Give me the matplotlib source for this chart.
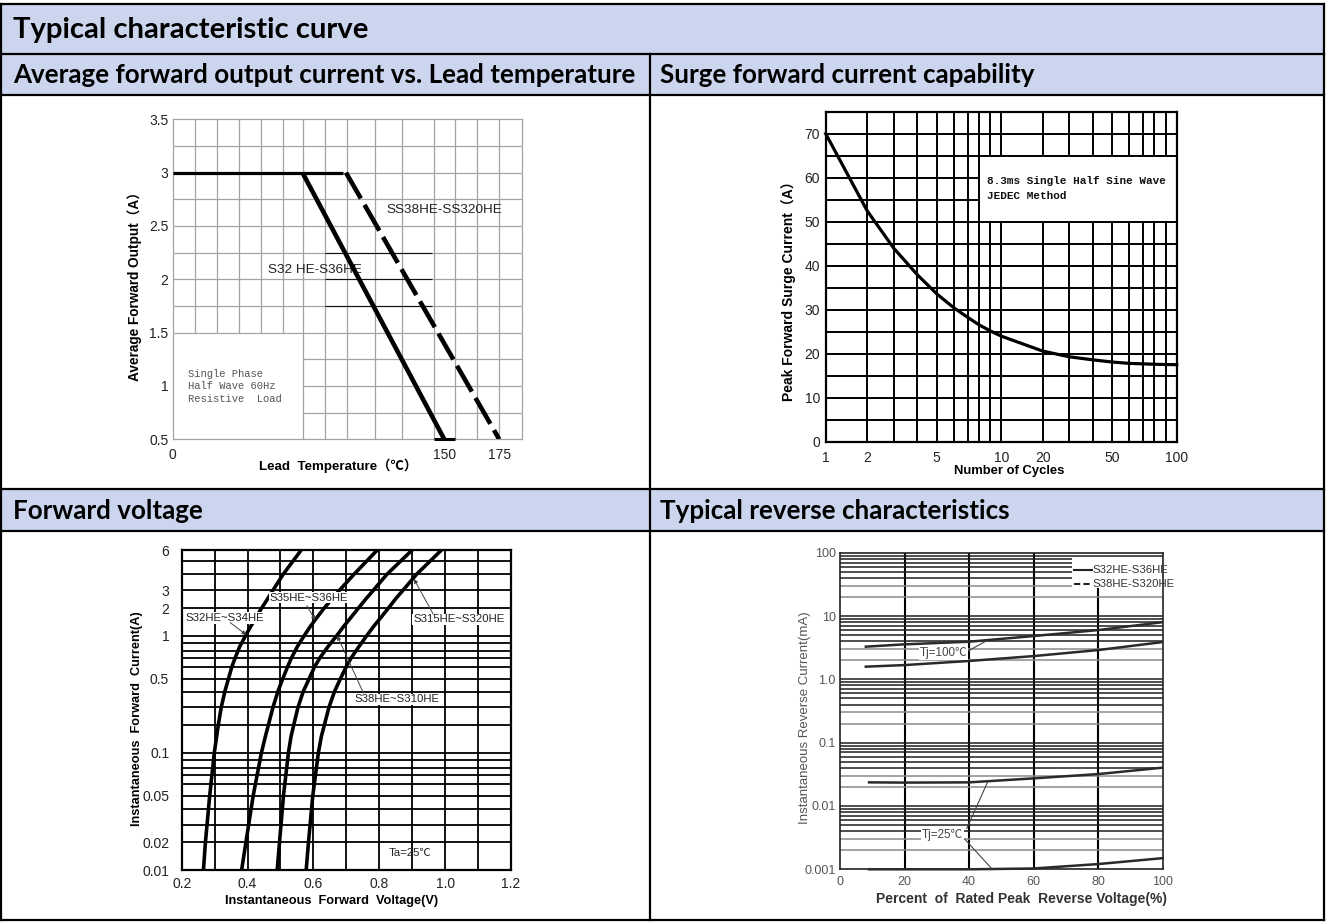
import numpy as np
import matplotlib
matplotlib.use("Agg")
import matplotlib.pyplot as plt
from matplotlib.patches import Rectangle
from matplotlib.lines import Line2D

# ---------------- data ----------------
# Chart 1: average forward output current vs lead temperature (broken axis starts at "0")
T_START = 26.5                      # axis position that carries the "0" label
flat_t = [T_START, 104.0]
flat_a = [3.0, 3.0]
s32_t = [85.5, 150.0]
s32_a = [3.0, 0.5]
ss38_t = [105.3, 175.0]
ss38_a = [3.0, 0.5]
c1_xticks = [T_START, 150, 175]
c1_xlabels = ["0", "150", "175"]
c1_yticks = [0.5, 1, 1.5, 2, 2.5, 3, 3.5]
c1_ylabels = ["0.5", "1", "1.5", "2", "2.5", "3", "3.5"]

# Chart 2: surge forward current capability
cycles = [1, 2, 3, 4, 5, 6, 7, 8, 9, 10, 20, 30, 40, 50, 60, 80, 100]
surge_a = [70.0, 52.5, 44.0, 37.9, 33.6, 30.4, 28.3, 26.6, 25.2, 24.0,
           20.6, 19.3, 18.6, 18.1, 17.8, 17.6, 17.5]
c2_xticks = [1, 2, 5, 10, 20, 50, 100]
c2_yticks = [0, 10, 20, 30, 40, 50, 60, 70]

# Chart 3: forward voltage
if_current = [0.01, 0.02, 0.05, 0.1, 0.15, 0.2, 0.3, 0.4, 0.5, 0.6, 0.7, 0.85,
              1, 1.25, 1.5, 2, 2.5, 3, 4, 6]
vf_s32 = [0.266, 0.272, 0.285, 0.299, 0.306, 0.311, 0.320, 0.331, 0.342, 0.352, 0.362, 0.376,
          0.394, 0.409, 0.422, 0.443, 0.462, 0.477, 0.508, 0.563]
vf_s35 = [0.382, 0.395, 0.417, 0.442, 0.454, 0.463, 0.477, 0.492, 0.507, 0.521, 0.533, 0.551,
          0.572, 0.590, 0.606, 0.633, 0.658, 0.679, 0.723, 0.794]
vf_s38 = [0.490, 0.497, 0.509, 0.524, 0.532, 0.540, 0.553, 0.569, 0.587, 0.603, 0.619, 0.644,
          0.671, 0.691, 0.709, 0.737, 0.761, 0.782, 0.823, 0.900]
vf_s315 = [0.578, 0.585, 0.598, 0.615, 0.624, 0.633, 0.647, 0.664, 0.682, 0.699, 0.714, 0.738,
           0.762, 0.782, 0.800, 0.828, 0.851, 0.872, 0.913, 0.989]
c3_xticks = [0.2, 0.4, 0.6, 0.8, 1.0, 1.2]
c3_xlabels = ["0.2", "0.4", "0.6", "0.8", "1.0", "1.2"]
c3_yticks = [0.01, 0.02, 0.05, 0.1, 0.5, 1, 2, 3, 6]
c3_ylabels = ["0.01", "0.02", "0.05", "0.1", "0.5", "1", "2", "3", "6"]

# Chart 4: typical reverse characteristics
pct_100 = [8, 20, 40, 60, 80, 100]
ir100_a = [3.28, 3.57, 3.93, 4.83, 6.0, 8.0]
ir100_b = [1.585, 1.68, 1.95, 2.33, 2.9, 3.88]
pct_25 = [9, 20, 40, 60, 80, 100]
ir25_a = [0.0236, 0.0234, 0.0236, 0.0273, 0.0319, 0.0403]
ir25_b = [0.001, 0.001, 0.001, 0.00103, 0.00121, 0.0015]
c4_xticks = [0, 20, 40, 60, 80, 100]
c4_yticks = [0.001, 0.01, 0.1, 1, 10, 100]
c4_ylabels = ["0.001", "0.01", "0.1", "1.0", "10", "100"]

# ---------------- setup ----------------
plt.rcParams['font.family'] = ['Liberation Sans', 'Noto Sans CJK SC', 'DejaVu Sans']
W, H = 1326, 922
fig = plt.figure(figsize=(W / 100, H / 100), dpi=100)
fig.patch.set_facecolor('white')


def add_ax(l, t, r, b):
    return fig.add_axes([l / W, 1 - b / H, (r - l) / W, (b - t) / H])


HEAD = '#CCD5EE'
for (t, b) in [(4, 54), (54, 95), (489, 531)]:
    fig.add_artist(Rectangle((1 / W, 1 - b / H), 1323 / W, (b - t) / H,
                             transform=fig.transFigure, facecolor=HEAD,
                             edgecolor='none', zorder=0))


def hline_px(y, x0=1, x1=1324, lw=1.6):
    fig.add_artist(Line2D([x0 / W, x1 / W], [1 - y / H] * 2, transform=fig.transFigure,
                          color='black', lw=lw, zorder=10, solid_capstyle='projecting'))


def vline_px(x, y0, y1, lw=1.6):
    fig.add_artist(Line2D([x / W] * 2, [1 - y0 / H, 1 - y1 / H], transform=fig.transFigure,
                          color='black', lw=lw, zorder=10, solid_capstyle='projecting'))


for y in [4, 54, 95, 489, 531, 920]:
    hline_px(y)
vline_px(1, 4, 920)
vline_px(1324, 4, 920)
vline_px(650, 54, 920)

# header texts, scaled to match widths
renderer = fig.canvas.get_renderer()
HFONT = ['Lato', 'DejaVu Sans']


def fitted_size(txt, target, base=14):
    t = fig.text(0, 0, txt, fontsize=base, fontweight='bold', family=HFONT)
    w = t.get_window_extent(renderer).width
    t.remove()
    return base * target / w


ts = fitted_size("Typical characteristic curve", 358)
ss = fitted_size("Average forward output current vs. Lead temperature", 625)
fig.text(13 / W, 1 - 30 / H, "Typical characteristic curve", fontsize=ts,
         fontweight='bold', family=HFONT, va='center', ha='left')
for (x, y, s) in [(13, 75, "Average forward output current vs. Lead temperature"),
                  (660, 75, "Surge forward current capability"),
                  (13, 511, "Forward voltage"),
                  (660, 511, "Typical reverse characteristics")]:
    fig.text(x / W, 1 - y / H, s, fontsize=ss, fontweight='bold', family=HFONT,
             va='center', ha='left')

# distorted-log graph paper (used by the surge and forward-voltage charts)
PAPER_FRAC = [0, 0.236, 0.387, 0.523, 0.633, 0.731, 0.808, 0.872, 0.937]
_kv, _kp = [], []
for d in range(-4, 4):
    for m, f in zip(range(1, 10), PAPER_FRAC):
        _kv.append(np.log10(m * 10.0 ** d))
        _kp.append(d + f)
_kv.append(4.0)
_kp.append(4.0)
_kv = np.array(_kv)
_kp = np.array(_kp)


def paper_fwd(v):
    v = np.clip(np.asarray(v, dtype=float), 1e-6, None)
    return np.interp(np.log10(v), _kv, _kp)


def paper_inv(p):
    return 10 ** np.interp(np.asarray(p, dtype=float), _kp, _kv)


MONO = ['Liberation Mono', 'DejaVu Sans Mono']

# ---------------- chart 1 ----------------
ax1 = add_ax(172.7, 119.3, 521.7, 439.3)
T_HI = 185.2
ax1.set_xlim(T_START, T_HI)
ax1.set_ylim(0.5, 3.5)
g1 = '#a3a3a3'
grid_t1 = [36.5, 46.5, 56.5, 66.5, 76.5, 85.9, 95.9, 105.9, 118.4, 130.8, 145.3, 155, 165, 175]
for t in grid_t1:
    ax1.vlines(t, 1.5 if t < 85 else 0.5, 3.5, colors=g1, lw=0.9, zorder=1)
for a in np.arange(0.75, 3.49, 0.25):
    ax1.hlines(a, 85.9 if a < 1.49 else T_START, T_HI, colors=g1, lw=0.9, zorder=1)
for a in [2.25, 2.0, 1.75]:
    ax1.hlines(a, 95.9, 144.5, colors='#111111', lw=0.8, zorder=2)
ax1.hlines(0.5, 145.3, 155, colors='black', lw=2.2, zorder=3, clip_on=False)
for sp in ax1.spines.values():
    sp.set_color(g1)
    sp.set_linewidth(0.9)
ax1.plot(flat_t, flat_a, color='black', lw=2.3, zorder=4, solid_capstyle='butt')
ax1.plot(s32_t, s32_a, color='black', lw=3.3, zorder=4, solid_capstyle='butt')
ax1.plot(ss38_t, ss38_a, color='black', lw=3.3, zorder=4, dashes=(6.5, 1.6),
         dash_capstyle='butt')
ax1.set_xticks(c1_xticks, c1_xlabels)
ax1.set_yticks(c1_yticks, c1_ylabels)
ax1.tick_params(axis='both', length=0, labelsize=10, colors='#222222')
ax1.tick_params(axis='y', pad=3)
ax1.tick_params(axis='x', pad=6)
ax1.text(123.5, 2.65, "SS38HE-SS320HE", fontsize=9.7, color='#222222', va='center', ha='left', zorder=5)
ax1.text(70.0, 2.09, "S32 HE-S36HE", fontsize=9.7, color='#222222', va='center', ha='left', zorder=3)
ax1.text(33.4, 1.16, "Single Phase\nHalf Wave 60Hz\nResistive  Load", fontsize=7.6,
         family=MONO, color='#555555', va='top', ha='left', linespacing=1.3)
fig.text(135 / W, 1 - 283 / H, "Average Forward Output（A）", rotation=90, fontsize=9.8,
         fontweight='bold', ha='center', va='center')
fig.text(338 / W, 1 - 466 / H, "Lead  Temperature（℃）", fontsize=9.6, fontweight='bold',
         ha='center', va='center')

# ---------------- chart 2 ----------------
ax2 = add_ax(825.7, 111.7, 1176.7, 441.7)
ax2.set_xscale('function', functions=(paper_fwd, paper_inv))
ax2.set_xlim(1, 100)
ax2.set_ylim(0, 75)
grid_c2 = [2, 3, 4, 5, 6, 7, 8, 9, 10, 20, 30, 40, 50, 60, 70, 80, 90]
for c in grid_c2:
    ax2.axvline(c, color='black', lw=1.4, zorder=1)
for a in range(5, 75, 5):
    ax2.axhline(a, color='black', lw=1.4, zorder=1)
ax2.add_patch(Rectangle((8, 50), 92, 15, facecolor='white', edgecolor='black', lw=1.4, zorder=2))
ax2.plot(cycles, surge_a, color='black', lw=2.3, zorder=3, clip_on=False)
for sp in ax2.spines.values():
    sp.set_linewidth(1.6)
ax2.set_xticks(c2_xticks, [str(c) for c in c2_xticks])
ax2.xaxis.set_minor_locator(matplotlib.ticker.NullLocator())
ax2.set_yticks(c2_yticks, [str(v) for v in c2_yticks])
ax2.tick_params(axis='both', length=0, labelsize=10, colors='#222222')
ax2.tick_params(axis='y', pad=4)
ax2.tick_params(axis='x', pad=7)
ax2.text(8.7, 57.5, "8.3ms Single Half Sine Wave\nJEDEC Method", fontsize=7.9, family=MONO,
         fontweight='bold', color='#111111', va='center', ha='left', linespacing=1.55, zorder=4)
fig.text(789 / W, 1 - 288 / H, "Peak Forward Surge Current（A）", rotation=90, fontsize=10,
         fontweight='bold', ha='center', va='center')
fig.text(1008.7 / W, 1 - 471 / H, "Number of Cycles", fontsize=9.4, fontweight='bold',
         ha='center', va='center')

# ---------------- chart 3 ----------------
ax3 = add_ax(181.7, 550, 511, 870)
ax3.set_yscale('function', functions=(paper_fwd, paper_inv))
ax3.set_xlim(0.2, 1.2)
ax3.set_ylim(0.01, 6)
for v in np.arange(0.3, 1.15, 0.1):
    ax3.axvline(v, color='black', lw=1.3, zorder=1)
grid_c3 = [m * 10.0 ** d for d in (-2, -1, 0) for m in range(1, 10)]
for v in grid_c3:
    if 0.01 < v < 6:
        ax3.axhline(v, color='black', lw=1.3, zorder=1)
for sp in ax3.spines.values():
    sp.set_linewidth(1.6)
for xs in (vf_s32, vf_s35, vf_s38, vf_s315):
    ax3.plot(xs, if_current, color='black', lw=2.6, zorder=3, solid_joinstyle='round')
lab_kw = dict(fontsize=8.2, color='#222222', va='center', ha='left', zorder=5,
              bbox=dict(facecolor='white', edgecolor='none', pad=0.6))
arr_kw = dict(arrowstyle='-|>', color='#444444', lw=0.7, mutation_scale=6, shrinkA=0, shrinkB=0)
ax3.text(0.210, 1.56, "S32HE~S34HE", **lab_kw)
ax3.annotate('', xy=(0.396, 1.02), xytext=(0.347, 1.39), arrowprops=arr_kw, zorder=6)
ax3.text(0.468, 2.54, "S35HE~S36HE", **lab_kw)
ax3.annotate('', xy=(0.606, 1.47), xytext=(0.580, 2.11), arrowprops=arr_kw, zorder=6)
ax3.text(0.903, 1.50, "S315HE~S320HE", **lab_kw)
ax3.annotate('', xy=(0.905, 3.69), xytext=(0.964, 1.71), arrowprops=arr_kw, zorder=6)
ax3.text(0.726, 0.347, "S38HE~S310HE", **lab_kw)
ax3.annotate('', xy=(0.672, 1.0), xytext=(0.752, 0.389), arrowprops=arr_kw, zorder=6)
ax3.text(0.828, 0.0154, "Ta=25℃", fontsize=8.2, color='#222222', va='center', ha='left', zorder=5)
ax3.set_xticks(c3_xticks, c3_xlabels)
ax3.set_yticks(c3_yticks, c3_ylabels)
ax3.yaxis.set_minor_locator(matplotlib.ticker.NullLocator())
ax3.tick_params(axis='both', length=0, labelsize=10, colors='#222222')
ax3.tick_params(axis='y', pad=9)
ax3.tick_params(axis='x', pad=5)
fig.text(136.7 / W, 1 - 719 / H, "Instantaneous  Forward  Current(A)", rotation=90, fontsize=9.2,
         fontweight='bold', ha='center', va='center')
fig.text(332 / W, 1 - 900.7 / H, "Instantaneous  Forward  Voltage(V)", fontsize=9.2,
         fontweight='bold', ha='center', va='center')

# ---------------- chart 4 ----------------
ax4 = add_ax(840, 552.7, 1162.7, 869.3)
ax4.set_yscale('log')
ax4.set_xlim(0, 100)
ax4.set_ylim(0.001, 100)
for v in [20, 40, 60]:
    ax4.axvline(v, color='black', lw=1.5, zorder=1)
ax4.vlines(80, 0.001, 28, colors='black', lw=1.5, zorder=1)
for d in range(-3, 2):
    for m in range(1, 10):
        v = m * 10.0 ** d
        if v <= 0.001:
            continue
        col = '#8a8a8a' if m in (2, 3) else '#1e1e1e'
        x_end = 72 if 25 < v < 85 else 100
        ax4.hlines(v, 0, x_end, colors=col, lw=1.1, zorder=1)
for sp in ax4.spines.values():
    sp.set_linewidth(1.2)
    sp.set_color('#222222')
cur_kw = dict(color='#2a2a2a', lw=1.8, zorder=3)
ax4.plot(pct_100, ir100_a, **cur_kw)
ax4.plot(pct_100, ir100_b, **cur_kw)
ax4.plot(pct_25, ir25_a, **cur_kw)
ax4.plot(pct_25, ir25_b, clip_on=False, **cur_kw)
ax4.plot([72.4, 78.0], [53, 53], color='#222222', lw=1.5, zorder=3)
ax4.plot([72.4, 78.0], [32, 32], color='#222222', lw=1.5, dashes=(3, 1.5), zorder=3)
ax4.text(78.3, 53, "S32HE-S36HE", fontsize=8.2, color='#333333', va='center', ha='left', zorder=4)
ax4.text(78.3, 32, "S38HE-S320HE", fontsize=8.2, color='#333333', va='center', ha='left', zorder=4)
ann_kw = dict(fontsize=8.4, color='#444444', va='center', ha='center', zorder=5,
              bbox=dict(facecolor='white', edgecolor='none', pad=0.5))
ax4.text(32.0, 2.57, "Tj=100℃", **ann_kw)
ax4.plot([39.3, 44.9], [2.73, 3.93], color='#444444', lw=0.8, zorder=4)
ax4.text(31.8, 0.0035, "Tj=25℃", **ann_kw)
ax4.plot([39.3, 45.7], [0.00444, 0.0236], color='#444444', lw=0.8, zorder=4)
ax4.plot([38.7, 47.2], [0.00298, 0.001], color='#444444', lw=0.8, zorder=4)
ax4.set_xticks(c4_xticks, [str(v) for v in c4_xticks])
ax4.set_yticks(c4_yticks, c4_ylabels)
ax4.yaxis.set_minor_locator(matplotlib.ticker.NullLocator())
ax4.tick_params(axis='both', length=0, labelsize=9, colors='#555555')
ax4.tick_params(axis='y', pad=3)
ax4.tick_params(axis='x', pad=5)
fig.text(805.5 / W, 1 - 718 / H, "Instantaneous Reverse Current(mA)", rotation=90, fontsize=9.5,
         color='#555555', ha='center', va='center')
fig.text(1021.7 / W, 1 - 899.3 / H, "Percent  of  Rated Peak  Reverse Voltage(%)", fontsize=10,
         fontweight='bold', color='#333333', ha='center', va='center')

fig.savefig("out.png", dpi=100)
